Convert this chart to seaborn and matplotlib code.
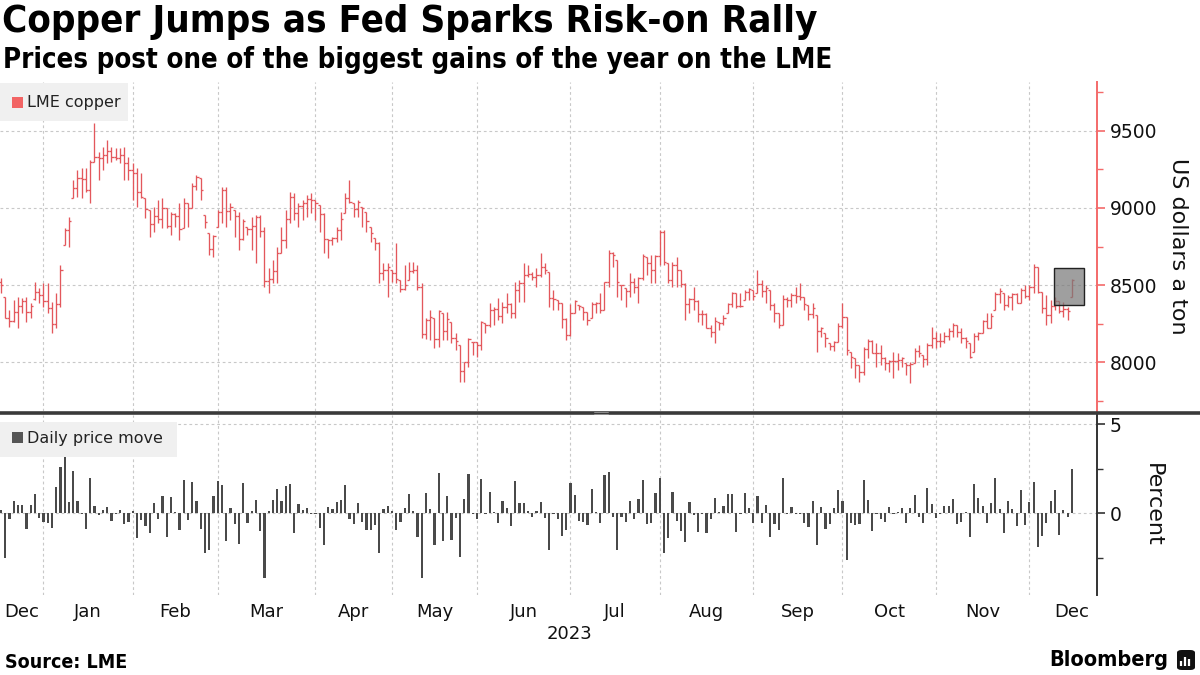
import numpy as np
import pandas as pd
import matplotlib
matplotlib.use("Agg")
import matplotlib.pyplot as plt
import seaborn as sns
from matplotlib.patches import Rectangle, FancyBboxPatch
from matplotlib.ticker import MultipleLocator, FixedLocator, NullFormatter
from matplotlib.lines import Line2D

# ---------------- data (trading days, 14 Dec 2022 -> 14 Dec 2023) ----------------
highs = [8545, 8425, 8340, 8404, 8425, 8415, 8425, 8382, 8522, 8479,
         8512, 8512, 8393, 8447, 8630, 8868, 8943, 9181, 9245, 9256,
         9256, 9310, 9547, 9364, 9396, 9440, 9396, 9386, 9386, 9396,
         9332, 9289, 9256, 9224, 9062, 8986, 9008, 9051, 9062, 8997,
         8976, 8965, 9030, 9062, 9030, 9159, 9213, 9192, 8954, 8837,
         8825, 8986, 9138, 9138, 9030, 8986, 8976, 8930, 8878, 8943,
         8954, 8954, 8878, 8609, 8660, 8749, 8878, 8986, 9105, 9094,
         9030, 9051, 9084, 9094, 9051, 9019, 8965, 8800, 8814, 8878,
         8976, 9094, 9181, 9030, 9050, 9008, 8976, 8878, 8803, 8781,
         8641, 8641, 8598, 8771, 8533, 8630, 8652, 8652, 8630, 8512,
         8290, 8339, 8285, 8339, 8317, 8328, 8263, 8188, 8112, 8004,
         8160, 8134, 8134, 8270, 8253, 8382, 8360, 8415, 8393, 8447,
         8382, 8522, 8533, 8641, 8630, 8587, 8609, 8706, 8640, 8587,
         8468, 8404, 8382, 8285, 8380, 8404, 8371, 8360, 8328, 8390,
         8393, 8447, 8522, 8725, 8717, 8663, 8501, 8479, 8576, 8544,
         8555, 8700, 8684, 8695, 8695, 8857, 8857, 8641, 8652, 8684,
         8598, 8512, 8415, 8490, 8404, 8339, 8317, 8242, 8296, 8263,
         8306, 8385, 8457, 8447, 8447, 8468, 8479, 8468, 8598, 8533,
         8501, 8468, 8382, 8317, 8435, 8425, 8447, 8490, 8512, 8425,
         8371, 8382, 8306, 8231, 8188, 8123, 8140, 8255, 8382, 8296,
         8069, 8026, 7983, 8100, 8150, 8145, 8123, 8112, 8037, 8015,
         8069, 8059, 8037, 7994, 8000, 8091, 8112, 8048, 8123, 8231,
         8199, 8188, 8199, 8220, 8253, 8242, 8220, 8166, 8123, 8188,
         8199, 8274, 8317, 8317, 8457, 8479, 8447, 8436, 8447, 8447,
         8479, 8501, 8501, 8635, 8620, 8457, 8436, 8404, 8420, 8400,
         8393, 8360, 8540]

lows = [8447, 8285, 8230, 8263, 8220, 8317, 8263, 8285, 8404, 8382,
        8360, 8317, 8188, 8220, 8360, 8760, 8749, 9062, 9073, 9062,
        9105, 9030, 9300, 9181, 9245, 9289, 9300, 9310, 9289, 9181,
        9181, 9051, 9008, 9062, 8932, 8814, 8846, 8900, 8868, 8868,
        8825, 8878, 8792, 8868, 8878, 8997, 9116, 9051, 8868, 8695,
        8684, 8878, 8900, 8878, 8922, 8814, 8727, 8792, 8825, 8727,
        8641, 8814, 8490, 8447, 8512, 8512, 8706, 8738, 8900, 8922,
        8878, 8922, 8943, 8965, 8922, 8846, 8706, 8674, 8760, 8781,
        8792, 8965, 9030, 8943, 8943, 8878, 8846, 8781, 8727, 8512,
        8533, 8425, 8522, 8512, 8457, 8468, 8533, 8576, 8468, 8155,
        8150, 8145, 8090, 8102, 8145, 8145, 8123, 8080, 7875, 7875,
        7972, 8048, 8037, 8080, 8188, 8231, 8242, 8274, 8253, 8317,
        8285, 8285, 8393, 8393, 8555, 8533, 8490, 8555, 8575, 8360,
        8339, 8339, 8220, 8145, 8170, 8317, 8339, 8274, 8242, 8285,
        8317, 8317, 8339, 8490, 8620, 8425, 8404, 8360, 8425, 8447,
        8382, 8533, 8566, 8512, 8512, 8630, 8630, 8512, 8490, 8490,
        8490, 8274, 8317, 8339, 8263, 8242, 8220, 8166, 8123, 8210,
        8240, 8317, 8360, 8355, 8360, 8404, 8404, 8404, 8447, 8425,
        8382, 8339, 8263, 8220, 8240, 8360, 8360, 8382, 8404, 8339,
        8274, 8285, 8069, 8166, 8102, 8080, 8075, 8130, 8220, 8048,
        7961, 7897, 7875, 7920, 8026, 8059, 7972, 7983, 7950, 7940,
        7897, 7950, 7972, 7918, 7864, 7994, 8037, 7972, 7983, 8091,
        8091, 8102, 8123, 8145, 8166, 8166, 8123, 8091, 8026, 8069,
        8145, 8188, 8220, 8220, 8339, 8382, 8339, 8360, 8339, 8382,
        8382, 8415, 8404, 8447, 8450, 8317, 8242, 8253, 8339, 8320,
        8296, 8274, 8420]

opens = [8520, 8420, 8290, 8270, 8325, 8365, 8400, 8325, 8410, 8455,
         8435, 8395, 8350, 8250, 8375, 8760, 8860, 9062, 9130, 9195,
         9190, 9115, 9300, 9330, 9320, 9340, 9370, 9330, 9325, 9345,
         9290, 9245, 9225, 9100, 9062, 8986, 8895, 8950, 8925, 8997,
         8880, 8960, 8950, 8868, 9030, 9000, 9140, 9192, 8954, 8837,
         8735, 8878, 8975, 9119, 8978, 8986, 8950, 8800, 8878, 8865,
         8880, 8940, 8850, 8525, 8540, 8590, 8706, 8790, 8925, 9070,
         8970, 9015, 9030, 9055, 9050, 9019, 8960, 8800, 8790, 8805,
         8860, 8965, 9065, 9030, 8990, 9008, 8976, 8878, 8803, 8775,
         8580, 8600, 8598, 8580, 8533, 8475, 8533, 8590, 8600, 8490,
         8185, 8275, 8285, 8150, 8317, 8200, 8263, 8160, 8112, 7945,
         8000, 8134, 8130, 8110, 8253, 8240, 8340, 8345, 8300, 8360,
         8380, 8320, 8470, 8515, 8565, 8575, 8555, 8565, 8620, 8587,
         8415, 8404, 8382, 8280, 8180, 8320, 8371, 8360, 8325, 8285,
         8380, 8385, 8340, 8520, 8710, 8663, 8501, 8479, 8460, 8520,
         8490, 8545, 8684, 8640, 8595, 8690, 8845, 8641, 8530, 8630,
         8595, 8510, 8375, 8410, 8400, 8315, 8310, 8225, 8195, 8263,
         8255, 8317, 8375, 8447, 8365, 8404, 8455, 8468, 8447, 8510,
         8465, 8468, 8370, 8317, 8245, 8410, 8405, 8435, 8430, 8425,
         8371, 8315, 8306, 8205, 8188, 8123, 8105, 8130, 8235, 8295,
         8069, 8026, 7983, 7940, 8085, 8140, 8060, 8060, 8030, 7995,
         8010, 8010, 8015, 7994, 7980, 7994, 8075, 8048, 8020, 8115,
         8155, 8135, 8135, 8170, 8200, 8242, 8195, 8155, 8123, 8069,
         8170, 8190, 8265, 8225, 8339, 8445, 8447, 8370, 8425, 8440,
         8385, 8470, 8430, 8485, 8615, 8455, 8350, 8305, 8365, 8400,
         8330, 8345, 8420]

closes = [8500, 8290, 8265, 8325, 8365, 8400, 8325, 8365, 8455, 8435,
          8395, 8350, 8250, 8375, 8600, 8860, 8915, 9130, 9195, 9190,
          9115, 9295, 9330, 9320, 9340, 9370, 9330, 9325, 9345, 9290,
          9245, 9225, 9100, 9070, 8995, 8895, 8950, 8925, 9000, 8880,
          8960, 8950, 8865, 9030, 9000, 9140, 9200, 9116, 8911, 8735,
          8820, 8975, 9119, 8978, 9005, 8950, 8800, 8915, 8865, 8880,
          8940, 8850, 8525, 8540, 8590, 8705, 8790, 8925, 9070, 8970,
          9015, 9030, 9055, 9050, 9030, 8960, 8800, 8790, 8805, 8860,
          8925, 9065, 9040, 8990, 9040, 9000, 8915, 8835, 8775, 8580,
          8600, 8620, 8580, 8540, 8475, 8500, 8590, 8600, 8490, 8185,
          8275, 8295, 8150, 8330, 8200, 8280, 8160, 8140, 7945, 8000,
          8150, 8130, 8110, 8260, 8240, 8340, 8345, 8300, 8360, 8380,
          8320, 8470, 8515, 8565, 8575, 8555, 8565, 8620, 8595, 8415,
          8410, 8385, 8280, 8180, 8320, 8400, 8365, 8325, 8275, 8380,
          8385, 8340, 8520, 8710, 8695, 8520, 8500, 8460, 8520, 8490,
          8545, 8690, 8640, 8595, 8690, 8845, 8650, 8530, 8630, 8595,
          8510, 8375, 8410, 8400, 8315, 8310, 8225, 8195, 8265, 8255,
          8290, 8375, 8450, 8365, 8365, 8455, 8475, 8430, 8510, 8465,
          8480, 8370, 8320, 8245, 8410, 8405, 8435, 8430, 8425, 8380,
          8315, 8350, 8205, 8225, 8155, 8105, 8130, 8235, 8295, 8080,
          8035, 7985, 7940, 8085, 8140, 8060, 8060, 8030, 7995, 8010,
          8010, 8015, 8025, 7980, 7990, 8075, 8060, 8020, 8115, 8155,
          8135, 8135, 8170, 8200, 8245, 8195, 8155, 8140, 8035, 8170,
          8190, 8265, 8225, 8300, 8445, 8460, 8370, 8425, 8440, 8385,
          8470, 8430, 8485, 8615, 8455, 8350, 8305, 8365, 8400, 8330,
          8345, 8330, 8535]

daily_move = [0.2, -2.5, -0.3, 0.7, 0.47, 0.47, -0.9, 0.47, 1.1, -0.25,
              -0.5, -0.56, -0.8, 1.5, 2.6, 3.15, 0.64, 2.4, 0.7, -0.05,
              -0.85, 2.0, 0.4, -0.1, 0.2, 0.35, -0.4, -0.05, 0.2, -0.6,
              -0.5, 0.15, -1.4, -0.35, -0.73, -1.1, 0.6, -0.3, 1.0, -1.35,
              0.9, 0.1, -0.95, 1.87, -0.35, 1.75, 0.7, -0.9, -2.2, -2.05,
              1.0, 1.8, 1.6, -1.55, 0.28, -0.6, -1.7, 1.7, -0.56, 0.15,
              0.73, -1.0, -3.65, 0.15, 0.73, 1.37, 0.7, 1.55, 1.65, -1.12,
              0.52, 0.19, 0.3, -0.03, -0.03, -0.8, -1.8, 0.34, 0.22, 0.62,
              0.73, 1.6, -0.34, -0.58, 0.56, -0.47, -0.92, -0.92, -0.67, -2.25,
              0.26, 0.41, 0.13, -0.92, -0.47, 0.28, 1.09, 0.13, -1.31, -3.61,
              1.14, 0.24, -1.76, 2.25, -1.54, 0.97, -1.48, -0.24, -2.43, 0.8,
              2.19, -0.06, -0.34, 1.93, -0.02, 1.18, 0.05, -0.52, 0.69, 0.28,
              -0.69, 1.8, 0.58, 0.58, 0.11, -0.22, 0.13, 0.62, -0.28, -2.08,
              -0.03, -0.3, -1.25, -0.92, 1.7, 1.03, -0.41, -0.47, -0.64, 1.37,
              0.07, -0.52, 2.15, 2.32, -0.19, -2.04, -0.19, -0.47, 0.69, -0.34,
              0.8, 1.87, -0.58, -0.52, 1.14, 1.98, -2.21, -1.37, 1.2, -0.41,
              -0.97, -1.59, 0.62, -0.07, -1.03, -0.02, -1.09, -0.34, 0.84, 0.05,
              0.41, 1.09, 1.09, -1.03, -0.02, 1.12, 0.28, -0.52, 0.97, -0.52,
              0.47, -1.31, -0.58, -0.92, 1.98, -0.06, 0.36, -0.04, -0.04, -0.52,
              -0.75, 0.69, -1.76, 0.36, -0.86, -0.62, 0.3, 1.31, 0.69, -2.6,
              -0.56, -0.64, -0.58, 1.87, 0.75, -0.97, -0.02, -0.34, -0.47, 0.36,
              -0.02, 0.06, 0.28, -0.52, 0.28, 1.03, -0.19, -0.52, 1.42, 0.52,
              -0.28, -0.02, 0.41, 0.41, 0.8, -0.58, -0.47, 0.05, -1.31, 1.65,
              0.86, 0.41, -0.52, 0.58, 1.98, 0.22, -1.09, 0.69, 0.22, -0.69,
              1.31, -0.64, 0.64, 1.76, -1.87, -1.25, -0.52, 0.69, 1.31, -1.2,
              0.17, -0.22, 2.49]

month_labels = ["Dec", "Jan", "Feb", "Mar", "Apr", "May", "Jun",
                "Jul", "Aug", "Sep", "Oct", "Nov", "Dec"]
month_start = [0, 11, 32, 52, 75, 93, 113, 135, 156, 178, 199, 221, 243]
year_label = "2023"
price_ticks = [8000, 8500, 9000, 9500]
move_ticks = [0, 5]

# ---------------- styling ----------------
sns.set_theme(style="white")
plt.rcParams["font.family"] = ["DejaVu Sans"]

RED = "#e3575c"
RED_SPINE = "#f46a6a"
DARK = "#333333"
BAR_GREY = "#4a4a4a"
GRID = "#c8c8c8"

W, H = 1200, 675
fig = plt.figure(figsize=(W / 100, H / 100), dpi=100)


def fx(px):
    return px / W


def fy(py):
    return 1 - py / H


n = len(closes)
idx = np.arange(n)
df = pd.DataFrame({"day": idx, "open": opens, "high": highs, "low": lows,
                   "close": closes, "move": daily_move})

X0, X1 = -0.235, 257.9
bounds = [s - 1 for s in month_start[1:]]

# ---------------- top panel: OHLC ----------------
ax1 = fig.add_axes([0, fy(411), fx(1097), fy(82) - fy(411)])
ax1.set_xlim(X0, X1)
ax1.set_ylim(7685, 9815)
ax1.vlines(df["day"], df["low"], df["high"], color=RED, lw=0.95, zorder=3)
ax1.hlines(df["open"], df["day"] - 0.5, df["day"], color=RED, lw=0.95, zorder=3)
ax1.hlines(df["close"], df["day"], df["day"] + 0.5, color=RED, lw=0.95, zorder=3)

for v in price_ticks:
    ax1.axhline(v, color=GRID, lw=0.8, ls=(0, (2.5, 2.5)), zorder=1)
for b in bounds:
    ax1.axvline(b, color=GRID, lw=0.8, ls=(0, (2.5, 2.5)), zorder=1)

ax1.yaxis.tick_right()
ax1.yaxis.set_label_position("right")
ax1.yaxis.set_major_locator(FixedLocator(price_ticks))
ax1.yaxis.set_minor_locator(MultipleLocator(250))
ax1.tick_params(axis="y", which="major", direction="out", length=6, width=1.2,
                color=RED_SPINE, labelsize=13.5, labelcolor="#111111", pad=3)
ax1.tick_params(axis="y", which="minor", direction="out", length=4, width=1.0,
                color=RED_SPINE)
ax1.set_xticks([])
for s in ["top", "left", "bottom"]:
    ax1.spines[s].set_visible(False)
ax1.spines["right"].set_color(RED_SPINE)
ax1.spines["right"].set_linewidth(1.4)
ax1.set_ylabel("US dollars a ton", rotation=-90, fontsize=16, color="#111111",
               labelpad=22)

# highlight box on the latest bars
hl = Rectangle((247.8, 8370), 7.0, 240, facecolor="#7a7a7a", alpha=0.72,
               edgecolor="none", zorder=4)
ax1.add_patch(hl)
ax1.add_patch(Rectangle((247.8, 8370), 7.0, 240, facecolor="none",
                        edgecolor="#222222", lw=1.0, zorder=5))

# ---------------- bottom panel: daily move ----------------
ax2 = fig.add_axes([0, fy(595), fx(1097), fy(415) - fy(595)])
sns.barplot(data=df, x="day", y="move", native_scale=True, color=BAR_GREY,
            saturation=1, width=0.5, linewidth=0, ax=ax2, zorder=3)
ax2.set_xlim(X0, X1)
ax2.set_ylim(-4.58, 5.52)
for v in move_ticks:
    ax2.axhline(v, color=GRID, lw=0.8, ls=(0, (2.5, 2.5)), zorder=1)
for b in bounds:
    ax2.axvline(b, color=GRID, lw=0.8, ls=(0, (2.5, 2.5)), zorder=1)
ax2.set_xlabel("")
ax2.yaxis.tick_right()
ax2.yaxis.set_label_position("right")
ax2.yaxis.set_major_locator(FixedLocator(move_ticks))
ax2.yaxis.set_minor_locator(FixedLocator([-2.5, 2.5]))
ax2.tick_params(axis="y", which="major", direction="out", length=6, width=1.2,
                color=DARK, labelsize=13.5, labelcolor="#111111", pad=3)
ax2.tick_params(axis="y", which="minor", direction="out", length=4, width=1.0,
                color=DARK)
ax2.set_ylabel("Percent", rotation=-90, fontsize=16, color="#111111", labelpad=30)
for s in ["top", "left", "bottom"]:
    ax2.spines[s].set_visible(False)
ax2.spines["right"].set_color(DARK)
ax2.spines["right"].set_linewidth(1.4)

# month ticks / labels
ends = [X0] + bounds + [262.0]
mids = [(ends[k] + ends[k + 1]) / 2 for k in range(len(month_labels))]
ax2.xaxis.set_major_locator(FixedLocator(bounds))
ax2.xaxis.set_major_formatter(NullFormatter())
ax2.xaxis.set_minor_locator(FixedLocator(mids))
ax2.set_xticklabels(month_labels, minor=True)
ax2.tick_params(axis="x", which="major", length=4, width=0.8, color="#bbbbbb",
                direction="out")
ax2.tick_params(axis="x", which="minor", length=0, labelsize=13,
                labelcolor="#111111", pad=6)

# ---------------- legends ----------------
fig.patches.append(Rectangle((0, fy(121)), fx(128), fy(83) - fy(121),
                             transform=fig.transFigure, facecolor="#f0f0f0",
                             edgecolor="none", zorder=6))
fig.patches.append(Rectangle((fx(12), fy(108)), fx(11), fy(97) - fy(108),
                             transform=fig.transFigure, facecolor="#f26464",
                             edgecolor="none", zorder=7))
fig.text(fx(27), fy(102.5), "LME copper", fontsize=11.5, color="#222222",
         va="center", ha="left", zorder=8)

fig.patches.append(Rectangle((0, fy(457)), fx(177), fy(422) - fy(457),
                             transform=fig.transFigure, facecolor="#f0f0f0",
                             edgecolor="none", zorder=6))
fig.patches.append(Rectangle((fx(12), fy(443)), fx(11), fy(432) - fy(443),
                             transform=fig.transFigure, facecolor="#555555",
                             edgecolor="none", zorder=7))
fig.text(fx(27), fy(438), "Daily price move", fontsize=11.5, color="#222222",
         va="center", ha="left", zorder=8)

# separator between panels
fig.add_artist(Line2D([0, 1], [fy(413), fy(413)], transform=fig.transFigure,
                      color="#3a3a3a", lw=2.6, zorder=9))
for yy in (412.2, 413.8):
    fig.add_artist(Line2D([fx(594), fx(608)], [fy(yy), fy(yy)],
                          transform=fig.transFigure, color="#9a9a9a", lw=0.6,
                          zorder=10))

# ---------------- titles & footer ----------------
title = fig.text(fx(2), fy(22), "Copper Jumps as Fed Sparks Risk-on Rally",
                 fontsize=26, fontweight="bold", fontstretch="condensed",
                 color="#000000", va="center", ha="left")
subtitle = fig.text(fx(3), fy(60), "Prices post one of the biggest gains of the year on the LME",
                    fontsize=18, fontweight="bold", fontstretch="condensed",
                    color="#000000", va="center", ha="left")
source = fig.text(fx(5), fy(662), "Source: LME", fontsize=12, fontweight="bold",
                  fontstretch="condensed", color="#000000", va="center", ha="left")
brand = fig.text(fx(1168), fy(660), "Bloomberg", fontsize=15, fontweight="bold",
                 fontstretch="condensed", color="#000000", va="center", ha="right")
fig.text(fx(570), fy(634), year_label, fontsize=13, color="#111111",
         va="center", ha="center")

# small logo mark
logo = FancyBboxPatch((fx(1177), fy(670)), fx(18), fy(650) - fy(670),
                      boxstyle="round,pad=0,rounding_size=0.004",
                      transform=fig.transFigure, facecolor="#111111",
                      edgecolor="none")
fig.patches.append(logo)
for k, hh in enumerate([5, 9, 7]):
    fig.add_artist(Line2D([fx(1181 + 4 * k), fx(1181 + 4 * k)],
                          [fy(666), fy(666 - hh)], transform=fig.transFigure,
                          color="white", lw=1.6, solid_capstyle="butt"))

# fit text widths to the reference
fig.canvas.draw()
r = fig.canvas.get_renderer()
for t, target in [(title, 815), (subtitle, 830), (source, 122), (brand, 120)]:
    w = t.get_window_extent(renderer=r).width
    t.set_fontsize(t.get_fontsize() * target / w)

fig.savefig("out.png", dpi=100)
